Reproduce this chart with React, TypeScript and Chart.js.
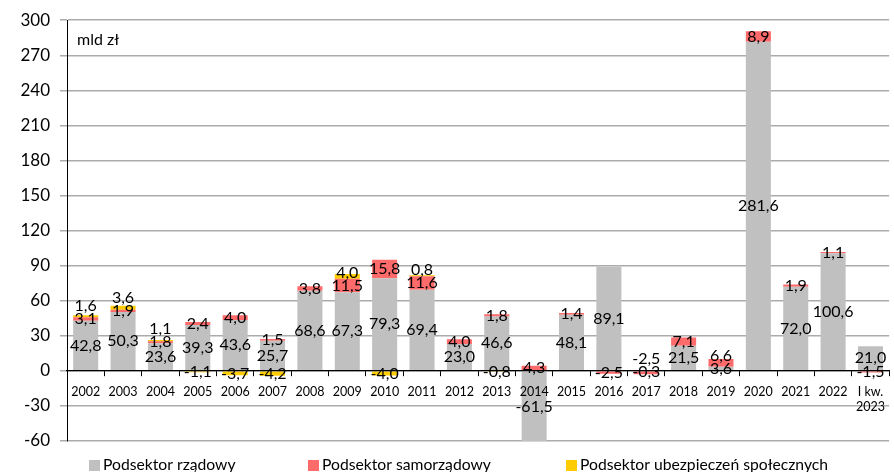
import React, { useEffect, useRef } from 'react';
import { Chart, registerables } from 'chart.js';

Chart.register(...registerables);

const categories: (string | string[])[] = [
  '2002', '2003', '2004', '2005', '2006', '2007', '2008', '2009', '2010', '2011',
  '2012', '2013', '2014', '2015', '2016', '2017', '2018', '2019', '2020', '2021',
  '2022', ['I kw.', '2023'],
];

const rzadowy: (number | null)[] = [
  42.8, 50.3, 23.6, 39.3, 43.6, 25.7, 68.6, 67.3, 79.3, 69.4,
  23.0, 46.6, -61.5, 48.1, 89.1, -0.3, 21.5, 3.6, 281.6, 72.0,
  100.6, 21.0,
];

const samorzadowy: (number | null)[] = [
  3.1, 1.9, 1.8, 2.4, 4.0, 1.5, 3.8, 11.5, 15.8, 11.6,
  4.0, 1.8, 4.3, 1.4, -2.5, -2.5, 7.1, 6.6, 8.9, 1.9,
  1.1, -1.5,
];

const ubezpieczen: (number | null)[] = [
  1.6, 3.6, 1.1, -1.1, -3.7, -4.2, null, 4.0, -4.0, 0.8,
  null, -0.8, null, null, null, null, null, null, null, null,
  null, null,
];

const seriesNames = ['Podsektor rządowy', 'Podsektor samorządowy', 'Podsektor ubezpieczeń społecznych'];
const seriesColors = ['#c0c0c0', '#ff6a6a', '#ffcc00'];

const yMin = -60;
const yMax = 300;
const yStep = 30;
const unitLabel = 'mld zł';

const FONT = 'Lato, "Open Sans", sans-serif';

const fmt = (v: number) => v.toFixed(1).replace('.', ',');

const labelPlugin = {
  id: 'stackLabels',
  afterDraw(chart: any) {
    const ctx = chart.ctx;
    ctx.save();
    ctx.font = `16px ${FONT}`;
    ctx.fillStyle = '#000';
    ctx.textAlign = 'center';
    ctx.textBaseline = 'middle';
    const n = chart.data.labels.length;
    for (let i = 0; i < n; i++) {
      const placed: number[] = [];
      chart.data.datasets.forEach((ds: any, di: number) => {
        const v = ds.data[i];
        if (v === null || v === undefined) return;
        const el = chart.getDatasetMeta(di).data[i];
        if (!el) return;
        let y = (el.y + el.base) / 2;
        let moved = true;
        let guard = 0;
        while (moved && guard < 10) {
          moved = false;
          guard++;
          for (const py of placed) {
            if (Math.abs(py - y) < 13) {
              y = py - 13;
              moved = true;
            }
          }
        }
        placed.push(y);
        ctx.fillText(fmt(v), el.x, y);
      });
    }
    // unit label
    ctx.textAlign = 'left';
    ctx.font = `16px ${FONT}`;
    ctx.fillText(unitLabel, chart.chartArea.left + 10, chart.chartArea.top + 20);

    // legend
    const legendX = [89, 308, 566];
    const ly = 465;
    ctx.font = `15.7px ${FONT}`;
    seriesNames.forEach((name, k) => {
      ctx.fillStyle = seriesColors[k];
      ctx.fillRect(legendX[k], ly - 5, 11, 11);
      ctx.fillStyle = '#000';
      ctx.fillText(name, legendX[k] + 14, ly);
    });
    ctx.restore();
  },
};

export default function App() {
  const ref = useRef<HTMLCanvasElement>(null);
  useEffect(() => {
    document.body.style.margin = '0';
    const canvas = ref.current;
    if (!canvas) return;
    const datas = [rzadowy, samorzadowy, ubezpieczen];
    const chart = new Chart(canvas, {
      type: 'bar',
      data: {
        labels: categories as any,
        datasets: datas.map((d, k) => ({
          label: seriesNames[k],
          data: d,
          backgroundColor: seriesColors[k],
          borderWidth: 0,
          barPercentage: 0.67,
          categoryPercentage: 1,
        })),
      },
      options: {
        animation: false,
        responsive: false,
        layout: { padding: { left: 20, top: 13, right: 1, bottom: 31 } },
        plugins: {
          legend: { display: false },
          tooltip: { enabled: false },
        },
        scales: {
          x: {
            stacked: true,
            position: { y: 0 } as any,
            z: 1,
            offset: true,
            grid: {
              display: true,
              drawOnChartArea: false,
              offset: true,
              tickLength: 5,
              color: '#000',
              tickColor: '#000',
              z: 1,
            },
            border: { display: true, color: '#000', width: 1.2, z: 1 } as any,
            ticks: {
              color: '#000',
              font: { family: FONT, size: 12.5 },
              padding: 9,
              maxRotation: 0,
              autoSkip: false,
              z: 1,
            },
          },
          y: {
            stacked: true,
            min: yMin,
            max: yMax,
            afterFit: (scale: any) => {
              scale.width = 47;
            },
            grid: {
              color: '#ababab',
              lineWidth: 1.5,
              tickLength: 7,
              tickColor: '#ababab',
            },
            border: { display: true, color: '#000', width: 1 },
            ticks: {
              stepSize: yStep,
              color: '#000',
              font: { family: FONT, size: 17 },
              padding: 10,
            },
          },
        },
      },
      plugins: [labelPlugin],
    });
    return () => chart.destroy();
  }, []);
  return (
    <div style={{ width: 894, height: 472 }}>
      <canvas ref={ref} width={894} height={472} />
    </div>
  );
}
